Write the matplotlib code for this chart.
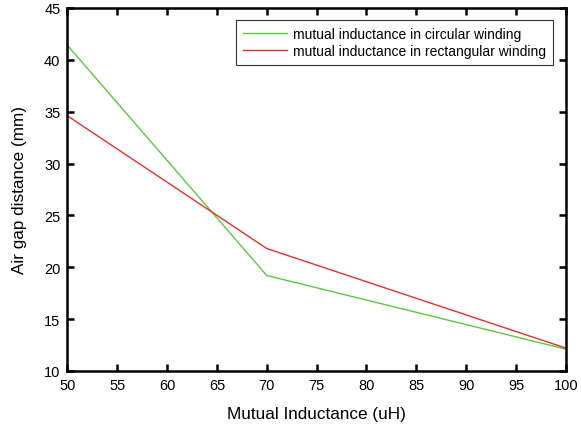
import matplotlib
matplotlib.use("Agg")
import matplotlib.pyplot as plt

plt.rcParams['font.family'] = ['Liberation Sans', 'DejaVu Sans']

# Data
mutual_inductance = [50, 70, 100]
gap_circular = [41.4, 19.2, 12.1]
gap_rectangular = [34.6, 21.8, 12.2]

x_ticks = [50, 55, 60, 65, 70, 75, 80, 85, 90, 95, 100]
y_ticks = [10, 15, 20, 25, 30, 35, 40, 45]

fig = plt.figure(figsize=(5.81, 4.27), dpi=100)
ax = fig.add_axes([0.116, 0.129, 0.858, 0.85])

ax.plot(mutual_inductance, gap_circular, color='#5cc83e', lw=1.0,
        label='mutual inductance in circular winding')
ax.plot(mutual_inductance, gap_rectangular, color='#e3302a', lw=1.0,
        label='mutual inductance in rectangular winding')

ax.set_xlim(50, 100)
ax.set_ylim(10, 45)
ax.set_xticks(x_ticks)
ax.set_yticks(y_ticks)
ax.tick_params(direction='in', top=True, right=True, width=1.8, length=5,
               labelsize=10.5, pad=5)
for sp in ax.spines.values():
    sp.set_linewidth(1.8)

ax.set_xlabel('Mutual Inductance (uH)', fontsize=12.3, labelpad=10)
ax.set_ylabel('Air gap distance (mm)', fontsize=12.3, labelpad=12)

leg = ax.legend(loc='upper right', bbox_to_anchor=(0.974, 0.968), fontsize=10,
                fancybox=False, edgecolor='#333333', framealpha=1,
                handlelength=3.2, handletextpad=0.4, borderpad=0.5,
                labelspacing=0.25, borderaxespad=0)
leg.get_frame().set_linewidth(0.8)

fig.savefig('out.png', dpi=100)
